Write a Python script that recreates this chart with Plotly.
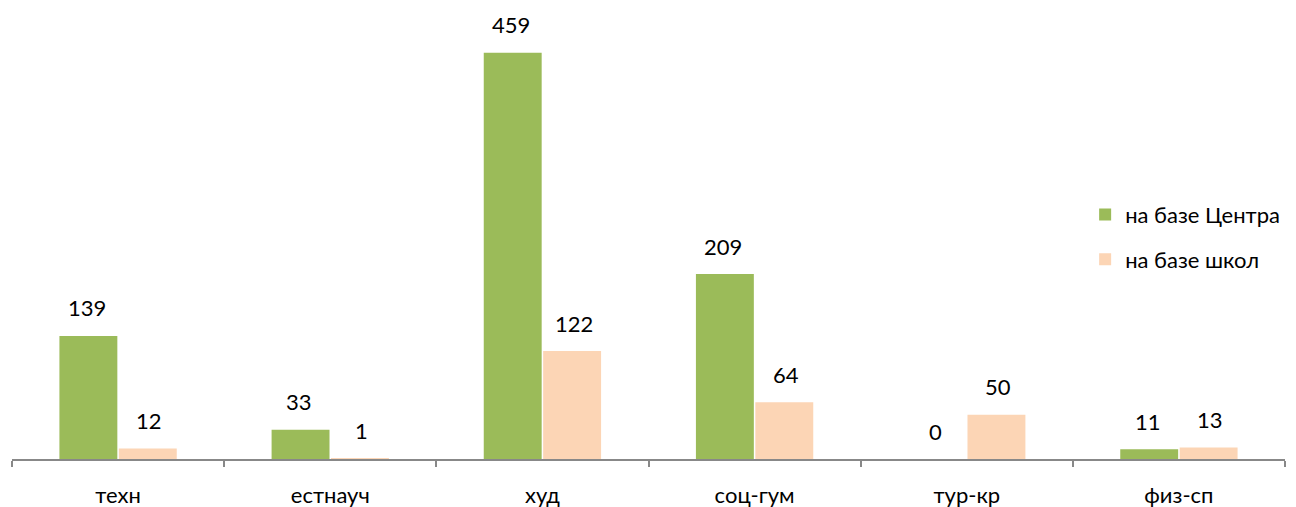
import plotly.graph_objects as go

categories = ["техн", "естнауч", "худ", "соц-гум", "тур-кр", "физ-сп"]
center_vals = [139, 33, 459, 209, 0, 11]
school_vals = [12, 1, 122, 64, 50, 13]
series_names = ["на базе Центра", "на базе школ"]
colors = ["#9BBB59", "#FCD5B5"]

FONT = "Lato, Open Sans, sans-serif"
FS = 22

fig = go.Figure()
for i, (name, vals, col) in enumerate(zip(series_names, [center_vals, school_vals], colors)):
    fig.add_trace(go.Bar(
        name=name, x=categories, y=vals, marker=dict(color=col, line=dict(width=0)),
        legendgroup=f"g{i}", offsetgroup=str(i),
    ))

# data labels as annotations positioned from data
for i, vals in enumerate([center_vals, school_vals]):
    off = -0.1475 if i == 0 else 0.1475
    for j, v in enumerate(vals):
        fig.add_annotation(x=j + off, y=v, text=str(v), showarrow=False,
                           yshift=28, font=dict(family=FONT, size=FS, color="#000000"),
                           xref="x", yref="y")

fig.update_layout(
    width=1288, height=499,
    margin=dict(l=4, r=11, t=12, b=48, autoexpand=False),
    paper_bgcolor="white", plot_bgcolor="white",
    barmode="group", bargap=0.44, bargroupgap=0.025,
    font=dict(family=FONT, size=FS, color="#000000"),
    legend=dict(x=0.843, y=0.505, xanchor="left", yanchor="middle",
                font=dict(family=FONT, size=FS), tracegroupgap=13,
                bgcolor="rgba(0,0,0,0)"),
    showlegend=True,
)
fig.update_xaxes(showline=True, linecolor="#888888", linewidth=1.5,
                 ticks="outside", ticklen=6, tickcolor="#888888", tickwidth=1.5,
                 tickson="boundaries", ticklabelstandoff=16, automargin=False,
                 tickfont=dict(family=FONT, size=FS, color="#000000"),
                 showgrid=False, zeroline=False)
fig.update_yaxes(range=[0, 496], visible=False, showgrid=False, zeroline=False,
                 automargin=False)

fig.write_html("out.html")
